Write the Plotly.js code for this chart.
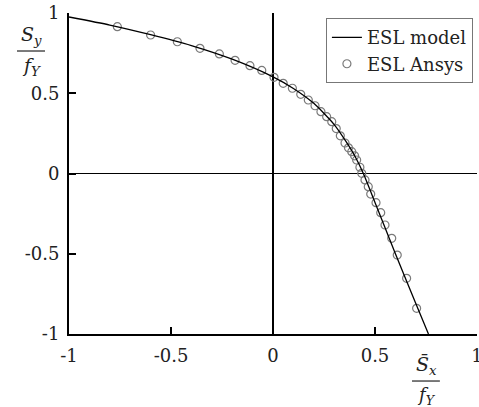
<!DOCTYPE html>
<html>
<head>
<meta charset="utf-8">
<script src="https://cdn.plot.ly/plotly-3.0.1.min.js"></script>
<style>html,body{margin:0;padding:0;background:#fff;}#chart{width:479px;height:407px;}</style>
</head>
<body>
<div id="chart"></div>
<script>
// ESL model curve
var modelX = [-1, -0.8, -0.6, -0.4, -0.2, 0, 0.1, 0.2, 0.3, 0.36, 0.405, 0.443, 0.5, 0.6, 0.7, 0.762];
var modelY = [0.975, 0.925, 0.865, 0.797, 0.712, 0.602, 0.53, 0.437, 0.305, 0.195, 0.1, 0, -0.18, -0.5, -0.81, -1];
// ESL Ansys points
var ansysX = [-0.763, -0.60, -0.469, -0.358, -0.263, -0.186, -0.113, -0.055, 0.005, 0.05, 0.095, 0.136, 0.173, 0.206, 0.235, 0.263, 0.288, 0.31, 0.33, 0.353, 0.37, 0.386, 0.40, 0.41, 0.426, 0.435, 0.451, 0.467, 0.479, 0.505, 0.528, 0.549, 0.582, 0.609, 0.655, 0.704];
var ansysY = [0.915, 0.863, 0.821, 0.780, 0.745, 0.705, 0.672, 0.642, 0.599, 0.562, 0.531, 0.493, 0.458, 0.422, 0.385, 0.354, 0.323, 0.28, 0.235, 0.19, 0.16, 0.136, 0.11, 0.084, 0.039, 0.001, -0.04, -0.082, -0.128, -0.182, -0.244, -0.321, -0.404, -0.508, -0.653, -0.840];
var tickVals = [-1, -0.5, 0, 0.5, 1];
var tickText = ['-1', '-0.5', '0', '0.5', '1'];

var FONT = '"DejaVu Serif", serif';

var traces = [
  {x: ansysX, y: ansysY, type: 'scatter', mode: 'markers', name: 'ESL Ansys',
   marker: {symbol: 'circle-open', size: 8, color: '#7a7a7a', line: {width: 1.2, color: '#7a7a7a'}}},
  {x: modelX, y: modelY, type: 'scatter', mode: 'lines', name: 'ESL model',
   line: {color: '#000', width: 1.3, shape: 'spline', smoothing: 0.6}}
];

var axisCommon = {
  range: [-1, 1], tickvals: tickVals, ticktext: tickText,
  showgrid: false, showline: true, linecolor: '#000', linewidth: 2,
  ticks: 'inside', ticklen: 7, tickwidth: 2, tickcolor: '#000',
  zeroline: true, zerolinecolor: '#000', zerolinewidth: 1.6,
  ticklabeloverflow: 'allow',
  tickfont: {family: FONT, size: 18, color: '#222'}, fixedrange: true
};

var layout = {
  width: 479, height: 407,
  margin: {l: 69, r: 2, t: 13, b: 73, pad: 0},
  paper_bgcolor: '#fff', plot_bgcolor: '#fff',
  font: {family: FONT, size: 18, color: '#222'},
  showlegend: true,
  legend: {x: 0.99, xanchor: 'right', y: 0.984, yanchor: 'top',
    traceorder: 'reversed', bordercolor: '#777', borderwidth: 1, bgcolor: '#fff',
    font: {family: FONT, size: 18, color: '#222'}},
  xaxis: Object.assign({}, axisCommon, {ticklabelstandoff: 4}),
  yaxis: Object.assign({}, axisCommon, {ticklabelstandoff: 4}),
  annotations: [
    {xref: 'paper', yref: 'paper', x: -0.093, y: 0.885, xanchor: 'center', yanchor: 'bottom', showarrow: false,
     text: '<i>S</i><sub><i>y</i></sub>', font: {family: FONT, size: 19, color: '#222'}},
    {xref: 'paper', yref: 'paper', x: -0.093, y: 0.878, xanchor: 'center', yanchor: 'top', showarrow: false,
     text: '<i>f</i><sub><i>Y</i></sub>', font: {family: FONT, size: 19, color: '#222'}},
    {xref: 'paper', yref: 'paper', x: 0.875, y: -0.143, xanchor: 'center', yanchor: 'bottom', showarrow: false,
     text: '<i>S\u0304</i><sub><i>x</i></sub>', font: {family: FONT, size: 19, color: '#222'}},
    {xref: 'paper', yref: 'paper', x: 0.875, y: -0.150, xanchor: 'center', yanchor: 'top', showarrow: false,
     text: '<i>f</i><sub><i>Y</i></sub>', font: {family: FONT, size: 18, color: '#222'}}
  ],
  shapes: [
    {type: 'line', xref: 'paper', yref: 'paper', x0: -0.1275, x1: -0.0588, y0: 0.8816, y1: 0.8816, line: {color: '#222', width: 1.2}},
    {type: 'line', xref: 'paper', yref: 'paper', x0: 0.8407, x1: 0.909, y0: -0.1465, y1: -0.1465, line: {color: '#222', width: 1.2}}
  ]
};

Plotly.newPlot('chart', traces, layout, {displayModeBar: false, staticPlot: true});
</script>
</body>
</html>
